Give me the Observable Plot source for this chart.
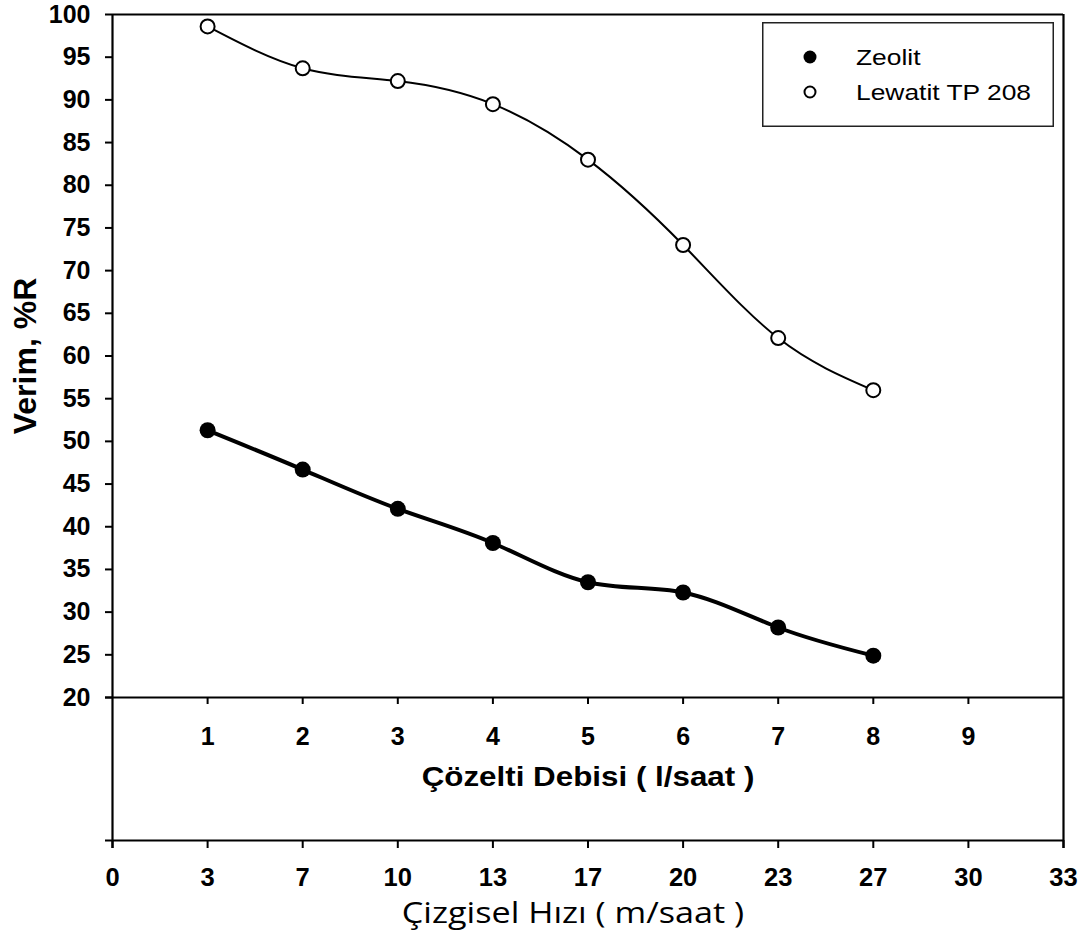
<!DOCTYPE html>
<html><head><meta charset="utf-8">
<script src="https://cdn.jsdelivr.net/npm/d3@7"></script>
<script src="https://cdn.jsdelivr.net/npm/@observablehq/plot@0.6"></script>
<style>
body{margin:0;background:#fff;}
#wrap{position:relative;width:1085px;height:949px;}
#legend{position:absolute;left:762px;top:22px;}
</style>
</head><body>
<div id="wrap"><div id="chart"></div><div id="legend"></div></div>
<script>
// ---- data ----
const debi = [1, 2, 3, 4, 5, 6, 7, 8];
const zeolit = [51.3, 46.7, 42.1, 38.1, 33.5, 32.3, 28.2, 24.9];
const lewatit = [98.6, 93.7, 92.2, 89.5, 83.0, 73.0, 62.1, 56.0];
const seriesNames = ["Zeolit", "Lewatit TP 208"];
const yTicks = d3.range(20, 101, 5);
const debiTicks = [1, 2, 3, 4, 5, 6, 7, 8, 9];
const hizTickPos = [0, 1, 2, 3, 4, 5, 6, 7, 8, 9, 10];
const hizLabels = ["0", "3", "7", "10", "13", "17", "20", "23", "27", "30", "33"];
const yTitle = "Verim, %R";
const xTitle1 = "Çözelti Debisi ( l/saat )";
const xTitle2 = "Çizgisel Hızı ( m/saat )";

const zeo = debi.map((x, i) => ({x, y: zeolit[i]}));
const lew = debi.map((x, i) => ({x, y: lewatit[i]}));

const chart = Plot.plot({
  width: 1085, height: 949,
  marginLeft: 112, marginRight: 22, marginTop: 14, marginBottom: 252,
  x: {domain: [0, 10]},
  y: {domain: [20, 100]},
  style: {fontFamily: '"Liberation Sans", Arial, sans-serif', fontSize: "25px", fontWeight: "bold", color: "#000", background: "#fff", overflow: "visible"},
  marks: [
    Plot.ruleY([100], {strokeWidth: 2.2}),
    Plot.ruleY([20], {strokeWidth: 2.2, insetLeft: -7}),
    Plot.ruleY([20], {strokeWidth: 2.2, dy: 143, insetLeft: -7}),
    Plot.ruleX([0, 10], {strokeWidth: 2.2, insetBottom: -151}),
    Plot.axisY(yTicks, {tickSize: 7, tickPadding: 15, strokeWidth: 2, label: null, fontSize: 25}),
    Plot.axisX(debiTicks, {anchor: "bottom", tickSize: 7, tickPadding: 23, strokeWidth: 2, label: null, fontSize: 25}),
    Plot.axisX(hizTickPos, {anchor: "bottom", dy: 143, tickSize: 8, tickPadding: 19, strokeWidth: 2, label: null, fontSize: 25.5, tickFormat: i => hizLabels[i]}),
    Plot.line(lew, {x: "x", y: "y", curve: "natural", strokeWidth: 2, stroke: "black"}),
    Plot.line(zeo, {x: "x", y: "y", curve: "natural", strokeWidth: 4, stroke: "black"}),
    Plot.dot(lew, {x: "x", y: "y", r: 7, fill: "white", stroke: "black", strokeWidth: 2}),
    Plot.dot(zeo, {x: "x", y: "y", r: 8, fill: "black"}),
    Plot.text([yTitle], {frameAnchor: "left", textAnchor: "middle", lineAnchor: "middle", dx: -87, rotate: -90, fontSize: 32}),
    Plot.text([xTitle1], {frameAnchor: "bottom", lineAnchor: "middle", dy: 80, fontSize: 28}),
    Plot.text([xTitle2], {frameAnchor: "bottom", lineAnchor: "middle", dy: 216, dx: -15, fontSize: 28.5, fontWeight: "normal", fontFamily: '"Open Sans", sans-serif'})
  ]
});
document.getElementById("chart").appendChild(chart);

// horizontal stretch of the axis-title glyphs, as in the reference picture
const sxBySize = {"28px": 1.12, "28.5px": 1.2};
chart.querySelectorAll("text").forEach(el => {
  const tr = el.getAttribute("transform") || "";
  if (tr.includes("rotate")) return;
  const s = sxBySize[getComputedStyle(el).fontSize];
  if (!s) return;
  el.setAttribute("transform", `${tr} scale(${s},1)`);
});

// legend
const lg = d3.select("#legend").append("svg").attr("width", 292).attr("height", 106)
  .style("font-family", '"Liberation Sans", Arial, sans-serif');
lg.append("rect").attr("x", 0.75).attr("y", 0.75).attr("width", 290.5).attr("height", 103.5)
  .attr("fill", "white").attr("stroke", "#222").attr("stroke-width", 1.5);
seriesNames.forEach((name, i) => {
  const cy = 35 + i * 35;
  lg.append("circle").attr("cx", 48).attr("cy", cy).attr("r", i === 0 ? 6.5 : 5.5)
    .attr("fill", i === 0 ? "black" : "white").attr("stroke", "black").attr("stroke-width", i === 0 ? 0 : 2);
  lg.append("text").attr("transform", `translate(94,${cy + 8}) scale(1.2,1)`)
    .attr("font-size", 22).text(name);
});
</script>
</body></html>
